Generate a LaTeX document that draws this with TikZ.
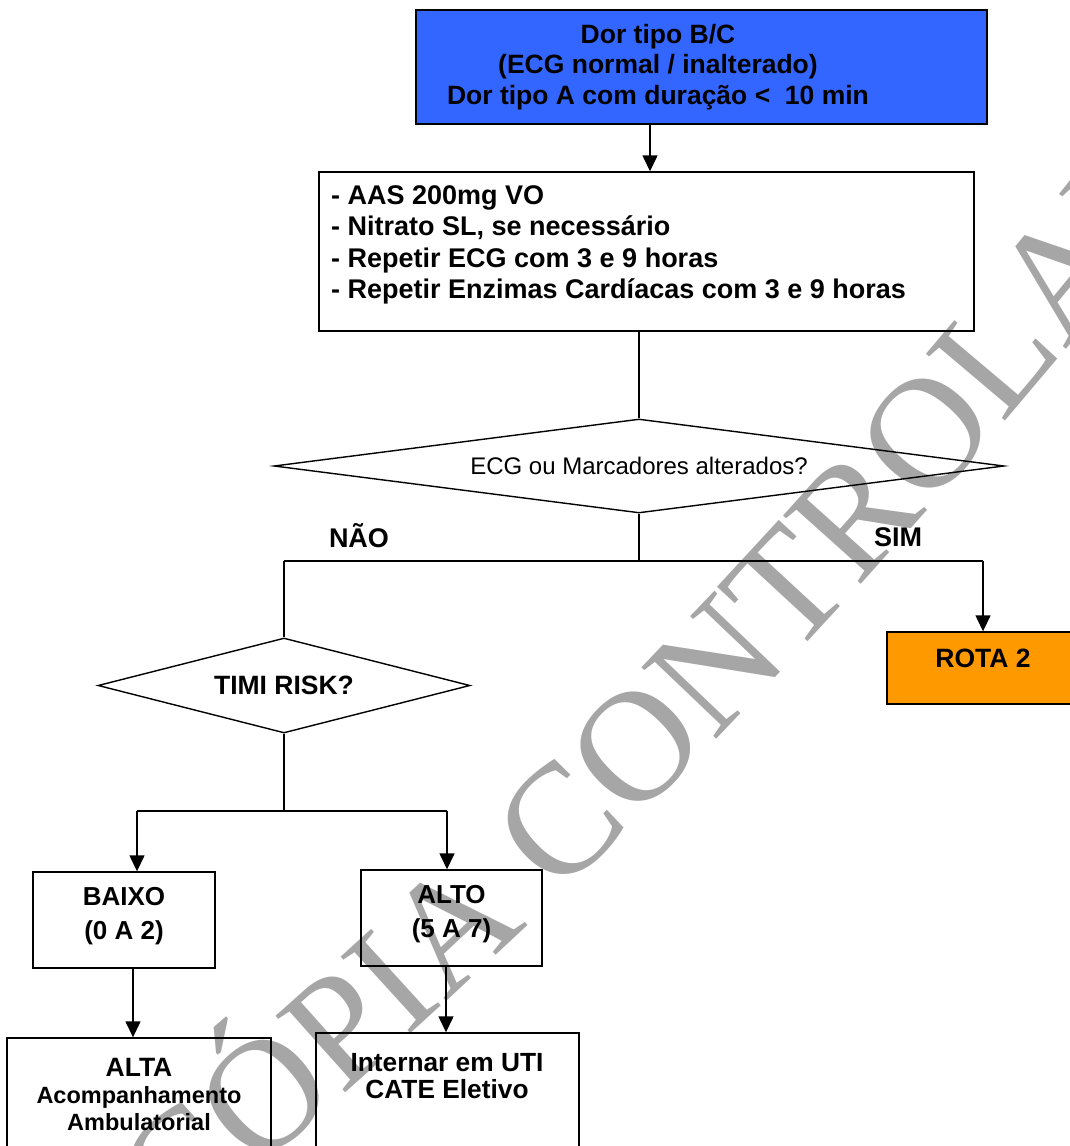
\documentclass[tikz,border=0pt]{standalone}
\usepackage{fontspec}
\setmainfont{Liberation Sans}
\newfontfamily\wmfont{Liberation Serif}
\usetikzlibrary{shapes.geometric,arrows.meta,decorations.text}
\definecolor{boxblue}{RGB}{51,102,255}
\definecolor{rotaorange}{RGB}{255,153,0}
\definecolor{wmgray}{RGB}{166,166,166}
\newcommand\fbold{\fontsize{26.5}{30.5}\selectfont\bfseries}
\newcommand\fboldb{\fontsize{27}{31.3}\selectfont\bfseries}
\newcommand\fboldc{\fontsize{26}{34}\selectfont\bfseries}
\newcommand\freg{\fontsize{24}{28}\selectfont}
\newcommand\wmstyle{\wmfont\fontsize{158}{160}\selectfont\color{wmgray}}
\begin{document}
\begin{tikzpicture}[x=1pt,y=-1pt,
  line/.style={line width=1.4pt},
  arr/.style={line width=1.4pt,-{Triangle[length=16pt,width=15pt]}},
  boxnode/.style={draw,line width=1.4pt,rectangle,inner sep=0pt},
  dnode/.style={draw,line width=1.4pt,diamond,inner sep=0pt},
  txt/.style={inner sep=0pt,align=center,font=\fbold}]
\useasboundingbox (0,0) rectangle (1070,1146);
% watermark
\coordinate (wm0) at (175,1240);
\coordinate (wm1) at (450,1005);
\coordinate (wm2) at (800,700);
\coordinate (wm3) at (1250,120);
\path[decorate,decoration={text along path,text={|\wmstyle|CÓPIA CONTROLADA},text align=left}]
  (wm0) .. controls (wm1) and (wm2) .. (wm3);
% boxes
\node[boxnode,fill=boxblue,minimum width=571pt,minimum height=114pt] (topbox) at (701.5,67) {};
\node[txt] (toptext) at (658,67) {Dor tipo B/C\\(ECG normal / inalterado)\\Dor tipo A com duração <~ 10 min};
\node[boxnode,minimum width=655pt,minimum height=159pt] (box2) at (646.5,251.5) {};
\node[inner sep=0pt,anchor=west,align=left,font=\fboldb] (box2text) at (331,245) {- AAS 200mg VO\\- Nitrato SL, se necessário\\- Repetir ECG com 3 e 9 horas\\- Repetir Enzimas Cardíacas com 3 e 9 horas};
\node[dnode,minimum width=730pt,minimum height=94pt,aspect=7.77,font=\freg] (d1) at (639,466) {ECG ou Marcadores alterados?};
\node[txt,font=\fboldb] (nao) at (359,536) {NÃO};
\node[txt,font=\fboldb] (sim) at (898,537) {SIM};
\node[boxnode,fill=rotaorange,minimum width=192pt,minimum height=72pt] (rota) at (983,668) {};
\node[txt] (rotatext) at (983,658) {ROTA 2};
\node[dnode,minimum width=372pt,minimum height=95pt,aspect=3.9,font=\fbold] (d2) at (284,685.5) {TIMI RISK?};
\node[boxnode,minimum width=182pt,minimum height=96pt] (baixo) at (124,920) {};
\node[txt,font=\fboldc] (baixotext) at (124,916) {BAIXO\\(0 A 2)};
\node[boxnode,minimum width=181pt,minimum height=96pt] (alto) at (451.5,918) {};
\node[txt,font=\fboldc] (altotext) at (451.5,914.5) {ALTO\\(5 A 7)};
\node[boxnode,minimum width=264pt,minimum height=130pt] (alta) at (139,1103) {};
\node[txt,font=\fontsize{23.5}{27}\selectfont\bfseries] (altatext) at (139,1094) {{\fontsize{26.5}{27}\selectfont ALTA}\\Acompanhamento\\Ambulatorial};
\node[boxnode,minimum width=263pt,minimum height=135pt] (internar) at (447.5,1100.5) {};
\node[txt,font=\fontsize{26.3}{27}\selectfont\bfseries] (internartext) at (447,1076.5) {Internar em UTI\\CATE Eletivo};
% junctions
\coordinate (c1) at (650,0);
\coordinate (c2) at (133,0);
\coordinate (c3) at (446,0);
\coordinate (jc) at (639,561);
\coordinate (jl) at (284,561);
\coordinate (jr) at (983,561);
\coordinate (kc) at (284,811);
\coordinate (kl) at (137,811);
\coordinate (kr) at (447,811);
% connectors
\draw[arr] (topbox.south -| c1) -- (box2.north -| c1);
\draw[line] (box2.south -| d1.north) -- (d1.north);
\draw[line] (d1.south) -- (jc);
\draw[line] (jl) -- (jr);
\draw[line] (jl) -- (d2.north);
\draw[arr] (jr) -- (rota.north);
\draw[line] (d2.south) -- (kc);
\draw[line] (kl) -- (kr);
\draw[arr] (kl) -- (baixo.north -| kl);
\draw[arr] (kr) -- (alto.north -| kr);
\draw[arr] (baixo.south -| c2) -- (alta.north -| c2);
\draw[arr] (alto.south -| c3) -- (internar.north -| c3);
\end{tikzpicture}
\end{document}
